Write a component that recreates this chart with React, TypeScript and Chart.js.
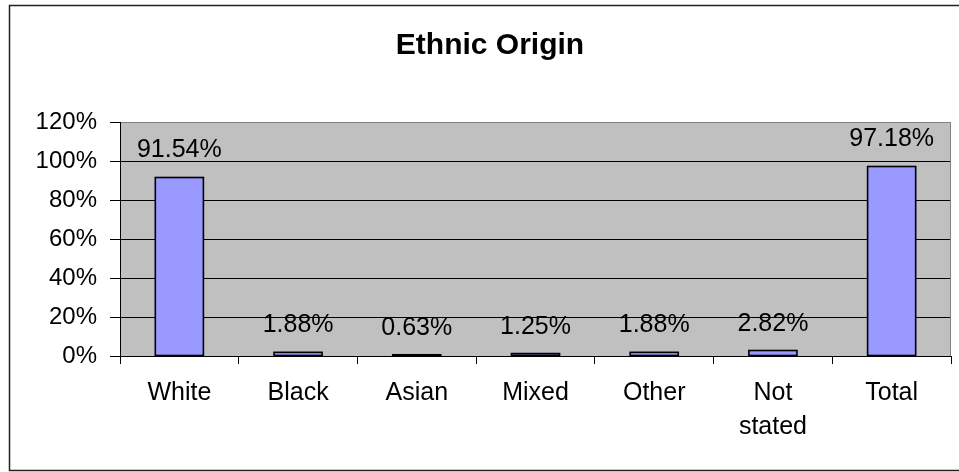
import React, { useEffect, useRef } from "react";
import { Chart, registerables } from "chart.js";

Chart.register(...registerables);

const categories: (string | string[])[] = ["White", "Black", "Asian", "Mixed", "Other", ["Not", "stated"], "Total"];
const percentages: number[] = [91.54, 1.88, 0.63, 1.25, 1.88, 2.82, 97.18];
const yTicks: number[] = [0, 20, 40, 60, 80, 100, 120];
const chartTitle = "Ethnic Origin";

const FONT = "'Liberation Sans', Arial, sans-serif";

const framePlugin = {
  id: "frame",
  beforeDraw(chart: any) {
    const { ctx, chartArea } = chart;
    ctx.save();
    // outer chart border
    ctx.strokeStyle = "#222";
    ctx.lineWidth = 1.5;
    ctx.strokeRect(9.5, 5.5, 980, 465);
    // plot area background
    ctx.fillStyle = "#C0C0C0";
    ctx.fillRect(chartArea.left, chartArea.top, chartArea.right - chartArea.left, chartArea.bottom - chartArea.top);
    // title
    ctx.fillStyle = "#000";
    ctx.font = `bold 30px ${FONT}`;
    ctx.textAlign = "center";
    ctx.textBaseline = "alphabetic";
    ctx.fillText(chartTitle, 490, 54);
    ctx.restore();
  },
  afterDraw(chart: any) {
    const { ctx, chartArea } = chart;
    ctx.save();
    ctx.strokeStyle = "#808080";
    ctx.lineWidth = 1;
    ctx.beginPath();
    ctx.moveTo(Math.round(chartArea.right) - 0.5, chartArea.top);
    ctx.lineTo(Math.round(chartArea.right) - 0.5, chartArea.bottom);
    ctx.stroke();
    ctx.restore();
  },
};

// Excel-style outline: stroke centred on each bar's edge (not clamped for tiny bars)
const outlinePlugin = {
  id: "barOutline",
  afterDatasetsDraw(chart: any) {
    const { ctx } = chart;
    const meta = chart.getDatasetMeta(0);
    ctx.save();
    ctx.strokeStyle = "#000";
    ctx.lineWidth = 1.6;
    meta.data.forEach((bar: any) => {
      const left = bar.x - bar.width / 2;
      const top = Math.min(bar.y, bar.base);
      const h = Math.abs(bar.base - bar.y);
      ctx.strokeRect(left, top, bar.width, h);
    });
    ctx.restore();
  },
};

const labelPlugin = {
  id: "barLabels",
  afterDatasetsDraw(chart: any) {
    const { ctx } = chart;
    const meta = chart.getDatasetMeta(0);
    ctx.save();
    ctx.fillStyle = "#000";
    ctx.font = `25px ${FONT}`;
    ctx.textAlign = "center";
    ctx.textBaseline = "alphabetic";
    meta.data.forEach((bar: any, i: number) => {
      ctx.fillText(percentages[i].toFixed(2) + "%", bar.x, bar.y - 20);
    });
    ctx.restore();
  },
};

export default function App() {
  const canvasRef = useRef<HTMLCanvasElement | null>(null);

  useEffect(() => {
    if (!canvasRef.current) return;
    const chart = new Chart(canvasRef.current, {
      type: "bar",
      data: {
        labels: categories,
        datasets: [
          {
            data: percentages,
            backgroundColor: "#9999FF",
            borderWidth: 0,
            categoryPercentage: 1,
            barPercentage: 0.405,
          },
        ],
      },
      options: {
        animation: false,
        responsive: false,
        devicePixelRatio: 1,
        layout: { padding: { left: 0, right: 8, top: 122, bottom: 0 } },
        plugins: {
          legend: { display: false },
          tooltip: { enabled: false },
          title: { display: false },
        },
        scales: {
          x: {
            afterFit(scale: any) {
              scale.height = 116;
            },
            grid: {
              display: true,
              drawOnChartArea: false,
              drawTicks: true,
              tickLength: 8,
              tickColor: "#000",
              offset: true,
            },
            border: { display: true, color: "#000", width: 1 },
            ticks: {
              color: "#000",
              font: { family: FONT, size: 25, lineHeight: 1.372 },
              padding: 12,
              maxRotation: 0,
              autoSkip: false,
            },
          },
          y: {
            min: 0,
            max: 120,
            afterFit(scale: any) {
              scale.width = 120;
            },
            afterBuildTicks(scale: any) {
              scale.ticks = yTicks.map((v) => ({ value: v }));
            },
            grid: {
              color: (c: any) => (c.tick && c.tick.value === 120 ? "#808080" : "#000"),
              lineWidth: 1,
              drawTicks: true,
              tickLength: 10,
              tickColor: "#000",
            },
            border: { display: true, color: "#000", width: 1 },
            ticks: {
              color: "#000",
              font: { family: FONT, size: 24 },
              padding: 13,
              callback: (v: any) => v + "%",
            },
          },
        },
      },
      plugins: [framePlugin, outlinePlugin, labelPlugin],
    });
    return () => chart.destroy();
  }, []);

  return (
    <div style={{ position: "absolute", left: 0, top: 0, width: 959, height: 472, overflow: "hidden", background: "#fff" }}>
      <canvas ref={canvasRef} width={959} height={472} style={{ display: "block" }} />
    </div>
  );
}
